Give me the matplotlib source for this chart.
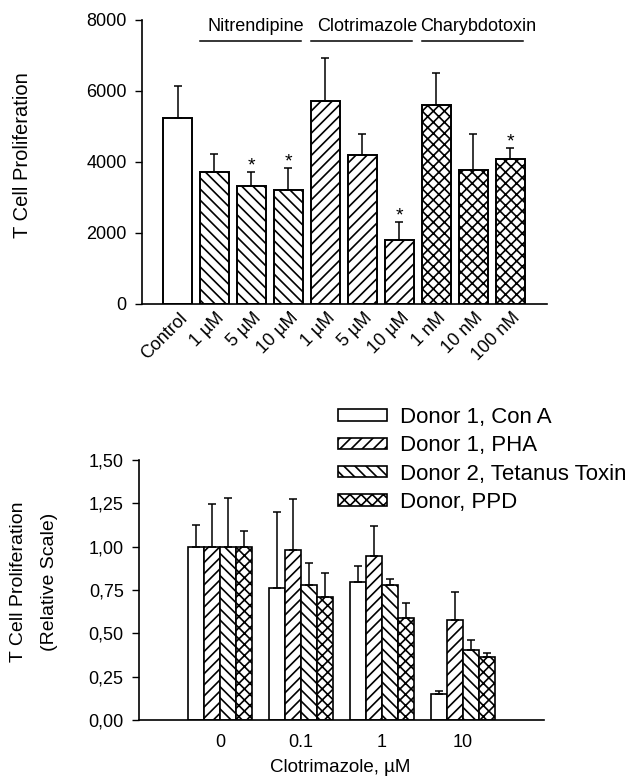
import matplotlib
matplotlib.use('Agg')
import matplotlib.pyplot as plt
import matplotlib.transforms as mtransforms
import numpy as np

plt.rcParams['font.family'] = ['Liberation Sans', 'DejaVu Sans']
plt.rcParams['hatch.linewidth'] = 1.2

# 上图数据
top_labels = ['Control', '1 µM', '5 µM', '10 µM', '1 µM', '5 µM', '10 µM', '1 nM', '10 nM', '100 nM']
top_means = [5240, 3720, 3325, 3210, 5720, 4200, 1800, 5600, 3775, 4085]
top_err = [900, 505, 395, 620, 1210, 590, 510, 910, 1015, 305]
top_sig = [False, False, True, True, False, False, True, False, False, True]
top_hatch = ['', '\\\\\\', '\\\\\\', '\\\\\\', '///', '///', '///', 'xxx', 'xxx', 'xxx']
group_names = ['Nitrendipine', 'Clotrimazole', 'Charybdotoxin']
group_members = [[1, 2, 3], [4, 5, 6], [7, 8, 9]]

# 下图数据
doses = ['0', '0.1', '1', '10']
series_names = ['Donor 1, Con A', 'Donor 1, PHA', 'Donor 2, Tetanus Toxin', 'Donor, PPD']
con_a = [1.00, 0.761, 0.798, 0.150]
con_a_err = [0.127, 0.437, 0.088, 0.019]
pha = [1.00, 0.979, 0.944, 0.576]
pha_err = [0.249, 0.298, 0.173, 0.160]
tetanus = [1.00, 0.780, 0.778, 0.405]
tetanus_err = [0.280, 0.126, 0.037, 0.057]
ppd = [1.00, 0.709, 0.586, 0.362]
ppd_err = [0.092, 0.139, 0.088, 0.023]
series_hatch = ['', '///', '\\\\\\', 'xxx']

fig = plt.figure(figsize=(6.42, 7.8), dpi=100)

# ---------------- 上图 ----------------
ax1 = fig.add_axes([142 / 642, 1 - 304 / 780, 405 / 642, 284 / 780])
x1 = np.arange(len(top_labels))
ax1.bar(x1, top_means, width=0.77, color='white', edgecolor='black',
        linewidth=1.4, hatch=top_hatch, zorder=2)
ax1.errorbar(x1, top_means, yerr=[np.zeros(len(x1)), top_err], fmt='none',
             ecolor='black', elinewidth=1.1, capsize=3, capthick=1.1, zorder=3)
for i in range(len(x1)):
    if top_sig[i]:
        ax1.text(x1[i], top_means[i] + top_err[i] + 40, '*', ha='center',
                 va='baseline', fontsize=14)
ax1.set_xlim(-0.96, 9.99)
ax1.set_ylim(0, 8000)
ax1.set_yticks([0, 2000, 4000, 6000, 8000])
ax1.tick_params(axis='y', direction='out', length=5, width=1, pad=6, labelsize=13)
ax1.set_xticks(x1)
ax1.set_xticklabels(top_labels, rotation=45, ha='right', va='top',
                    rotation_mode='anchor', fontsize=13)
ax1.tick_params(axis='x', length=0, pad=4)
off = mtransforms.ScaledTranslation(0.01, 0, fig.dpi_scale_trans)
for lab in ax1.get_xticklabels():
    lab.set_transform(lab.get_transform() + off)
for s in ['top', 'right']:
    ax1.spines[s].set_visible(False)
ax1.spines['left'].set_linewidth(1.2)
ax1.spines['bottom'].set_linewidth(1.2)

# 组标签和横线
for name, idx in zip(group_names, group_members):
    lo = idx[0] - 0.38
    hi = idx[-1] + 0.34
    ax1.plot([lo, hi], [7410, 7410], color='black', lw=1.1, clip_on=False)
    ax1.text((lo + hi) / 2 + 0.15, 7830, name, ha='center', va='center',
             fontsize=13, clip_on=False)

fig.text(23 / 642, 1 - 155 / 780, 'T Cell Proliferation', rotation=90,
         ha='center', va='center', fontsize=14.5)

# ---------------- 下图 ----------------
ax2 = fig.add_axes([139 / 642, 1 - 720 / 780, 405 / 642, 260 / 780])
x2 = np.arange(len(doses))
vals = [con_a, pha, tetanus, ppd]
errs = [con_a_err, pha_err, tetanus_err, ppd_err]
offsets = [-0.3, -0.1, 0.1, 0.3]
handles = []
for k in range(4):
    b = ax2.bar(x2 + offsets[k], vals[k], width=0.2, color='white',
                edgecolor='black', linewidth=1.2, hatch=series_hatch[k],
                label=series_names[k], zorder=2)
    handles.append(b)
    ax2.errorbar(x2 + offsets[k], vals[k], yerr=[np.zeros(4), errs[k]],
                 fmt='none', ecolor='black', elinewidth=1.1, capsize=3,
                 capthick=1.1, zorder=3)
ax2.set_xlim(-1, 4)
ax2.set_ylim(0, 1.5)
ax2.set_yticks([0, 0.25, 0.5, 0.75, 1.0, 1.25, 1.5])
ax2.set_yticklabels(['0,00', '0,25', '0,50', '0,75', '1,00', '1,25', '1,50'])
ax2.tick_params(axis='y', direction='out', length=5, width=1, pad=6, labelsize=13)
ax2.set_xticks(x2)
ax2.set_xticklabels(doses, fontsize=13)
ax2.tick_params(axis='x', length=0, pad=10)
for s in ['top', 'right']:
    ax2.spines[s].set_visible(False)
ax2.spines['left'].set_linewidth(1.2)
ax2.spines['bottom'].set_linewidth(1.2)

fig.text(340 / 642, 1 - 768 / 780, 'Clotrimazole, µM', ha='center',
         va='center', fontsize=13.5)
fig.text(18.5 / 642, 1 - 582 / 780, 'T Cell Proliferation', rotation=90,
         ha='center', va='center', fontsize=14)
fig.text(49 / 642, 1 - 582 / 780, '(Relative Scale)', rotation=90,
         ha='center', va='center', fontsize=14)

ax2.legend(handles=handles, loc='upper left',
           bbox_to_anchor=(338 / 642, 1 - 407 / 780),
           bbox_transform=fig.transFigure, frameon=False, fontsize=16,
           borderpad=0, borderaxespad=0, handlelength=2.2, handleheight=0.4,
           handletextpad=0.6, labelspacing=0.33)

plt.savefig('out.png', dpi=100)
